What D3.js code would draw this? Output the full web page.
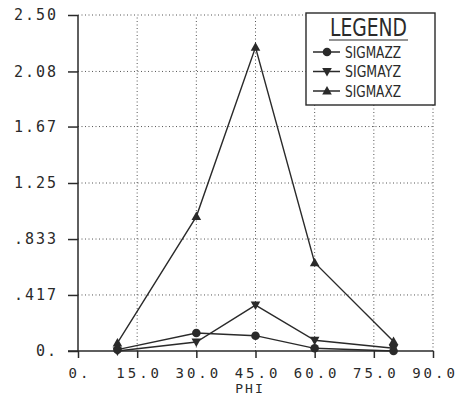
<!DOCTYPE html>
<html>
<head>
<meta charset="utf-8">
<script src="https://cdn.jsdelivr.net/npm/d3@7"></script>
<style>
  body { margin: 0; background: #fff; }
  text { fill: #2a2a2a; }
</style>
</head>
<body>
<script>
var phi = [10, 30, 45, 60, 80]
var sigmaZZ = [0.01, 0.134, 0.114, 0.02, 0.0]
var sigmaYZ = [0.0, 0.067, 0.342, 0.08, 0.02]
var sigmaXZ = [0.06, 1.0, 2.26, 0.657, 0.07]

var xTicks = [0, 15, 30, 45, 60, 75, 90]
var xTickLabels = ['0.', '15.0', '30.0', '45.0', '60.0', '75.0', '90.0']
var yTicks = [0, 0.417, 0.833, 1.25, 1.67, 2.08, 2.5]
var yTickLabels = ['0.', '.417', '.833', '1.25', '1.67', '2.08', '2.50']

var seriesNames = ['SIGMAZZ', 'SIGMAYZ', 'SIGMAXZ']
var seriesValues = [sigmaZZ, sigmaYZ, sigmaXZ]
var seriesSymbols = ['circle', 'down', 'up']

var ink = '#2a2a2a'
var mono = '"DejaVu Sans Mono", monospace'

var svg = d3.select('body').append('svg')
  .attr('width', 461)
  .attr('height', 399)

var x = d3.scaleLinear().domain([0, 90]).range([78, 433])
var y = d3.scaleLinear().domain([0, 2.5]).range([351, 15])

// dotted grid
svg.append('g').selectAll('line').data(xTicks.slice(1)).enter().append('line')
  .attr('x1', function(d){ return x(d) }).attr('x2', function(d){ return x(d) })
  .attr('y1', y(0)).attr('y2', y(2.5))
  .attr('stroke', '#555').attr('stroke-width', 1).attr('stroke-dasharray', '1,2.5')
svg.append('g').selectAll('line').data(yTicks.slice(1)).enter().append('line')
  .attr('y1', function(d){ return y(d) }).attr('y2', function(d){ return y(d) })
  .attr('x1', x(0)).attr('x2', x(90))
  .attr('stroke', '#555').attr('stroke-width', 1).attr('stroke-dasharray', '1,2.5')

// axes
var xAxis = d3.axisBottom(x).tickValues(xTicks).tickSize(7).tickPadding(10)
  .tickFormat(function(d, i){ return xTickLabels[i] })
var yAxis = d3.axisLeft(y).tickValues(yTicks).tickSize(10).tickPadding(10)
  .tickFormat(function(d, i){ return yTickLabels[i] })

var gx = svg.append('g').attr('transform', 'translate(0,' + y(0) + ')').call(xAxis)
var gy = svg.append('g').attr('transform', 'translate(' + x(0) + ',0)').call(yAxis)

gx.select('.domain').attr('d', 'M' + (x(0) - 10) + ',0H' + x(90))
gy.select('.domain').attr('d', 'M0,' + y(0) + 'V' + y(2.5))
svg.selectAll('.domain').attr('stroke', ink).attr('stroke-width', 1.5)
svg.selectAll('.tick line').attr('stroke', ink).attr('stroke-width', 1.5)
gy.selectAll('.tick text')
  .style('font-family', mono).style('font-size', '15px').style('letter-spacing', '2px')
  .attr('fill', ink)
gx.selectAll('.tick text')
  .style('font-family', mono).style('font-size', '14px').style('letter-spacing', '3px')
  .attr('fill', ink).attr('dx', '1.5px')

svg.append('text')
  .attr('x', 250).attr('y', 393)
  .attr('text-anchor', 'middle')
  .attr('fill', ink)
  .style('font-family', mono).style('font-size', '13px').style('letter-spacing', '2px')
  .text('PHI')

// series lines
var line = d3.line()
  .x(function(d, i){ return x(phi[i]) })
  .y(function(d){ return y(d) })

function drawSymbol(g, kind, cx, cy) {
  if (kind === 'circle') {
    g.append('circle').attr('cx', cx).attr('cy', cy).attr('r', 4.3).attr('fill', ink)
  } else if (kind === 'up') {
    g.append('path').attr('d', 'M' + cx + ',' + (cy - 5) + 'L' + (cx + 4.8) + ',' + (cy + 3.5) + 'L' + (cx - 4.8) + ',' + (cy + 3.5) + 'Z').attr('fill', ink)
  } else {
    g.append('path').attr('d', 'M' + cx + ',' + (cy + 5) + 'L' + (cx + 4.8) + ',' + (cy - 3.5) + 'L' + (cx - 4.8) + ',' + (cy - 3.5) + 'Z').attr('fill', ink)
  }
}

seriesValues.forEach(function(vals, s){
  svg.append('path').datum(vals)
    .attr('d', line)
    .attr('fill', 'none').attr('stroke', ink).attr('stroke-width', 1.4)
})
seriesValues.forEach(function(vals, s){
  var g = svg.append('g')
  vals.forEach(function(v, i){ drawSymbol(g, seriesSymbols[s], x(phi[i]), y(v)) })
})

// legend
var lg = svg.append('g')
lg.append('rect').attr('x', 306).attr('y', 13).attr('width', 129).attr('height', 92)
  .attr('fill', '#fff').attr('stroke', ink).attr('stroke-width', 1.4)
lg.append('text').attr('x', 330).attr('y', 36)
  .attr('textLength', 77).attr('lengthAdjust', 'spacingAndGlyphs')
  .attr('fill', ink)
  .style('font-family', '"DejaVu Sans"').style('font-size', '24px')
  .text('LEGEND')
lg.append('line').attr('x1', 329).attr('x2', 408).attr('y1', 40).attr('y2', 40)
  .attr('stroke', ink).attr('stroke-width', 1.2)

seriesNames.forEach(function(name, s){
  var ry = 52 + s * 19.5
  lg.append('line').attr('x1', 313).attr('x2', 340).attr('y1', ry).attr('y2', ry)
    .attr('stroke', ink).attr('stroke-width', 1.5)
  drawSymbol(lg, seriesSymbols[s], 327, ry)
  lg.append('text').attr('x', 345).attr('y', ry + 5.5)
    .attr('textLength', 56).attr('lengthAdjust', 'spacingAndGlyphs')
    .attr('fill', ink)
    .style('font-family', '"DejaVu Sans"').style('font-size', '15px')
    .text(name)
})
</script>
</body>
</html>
